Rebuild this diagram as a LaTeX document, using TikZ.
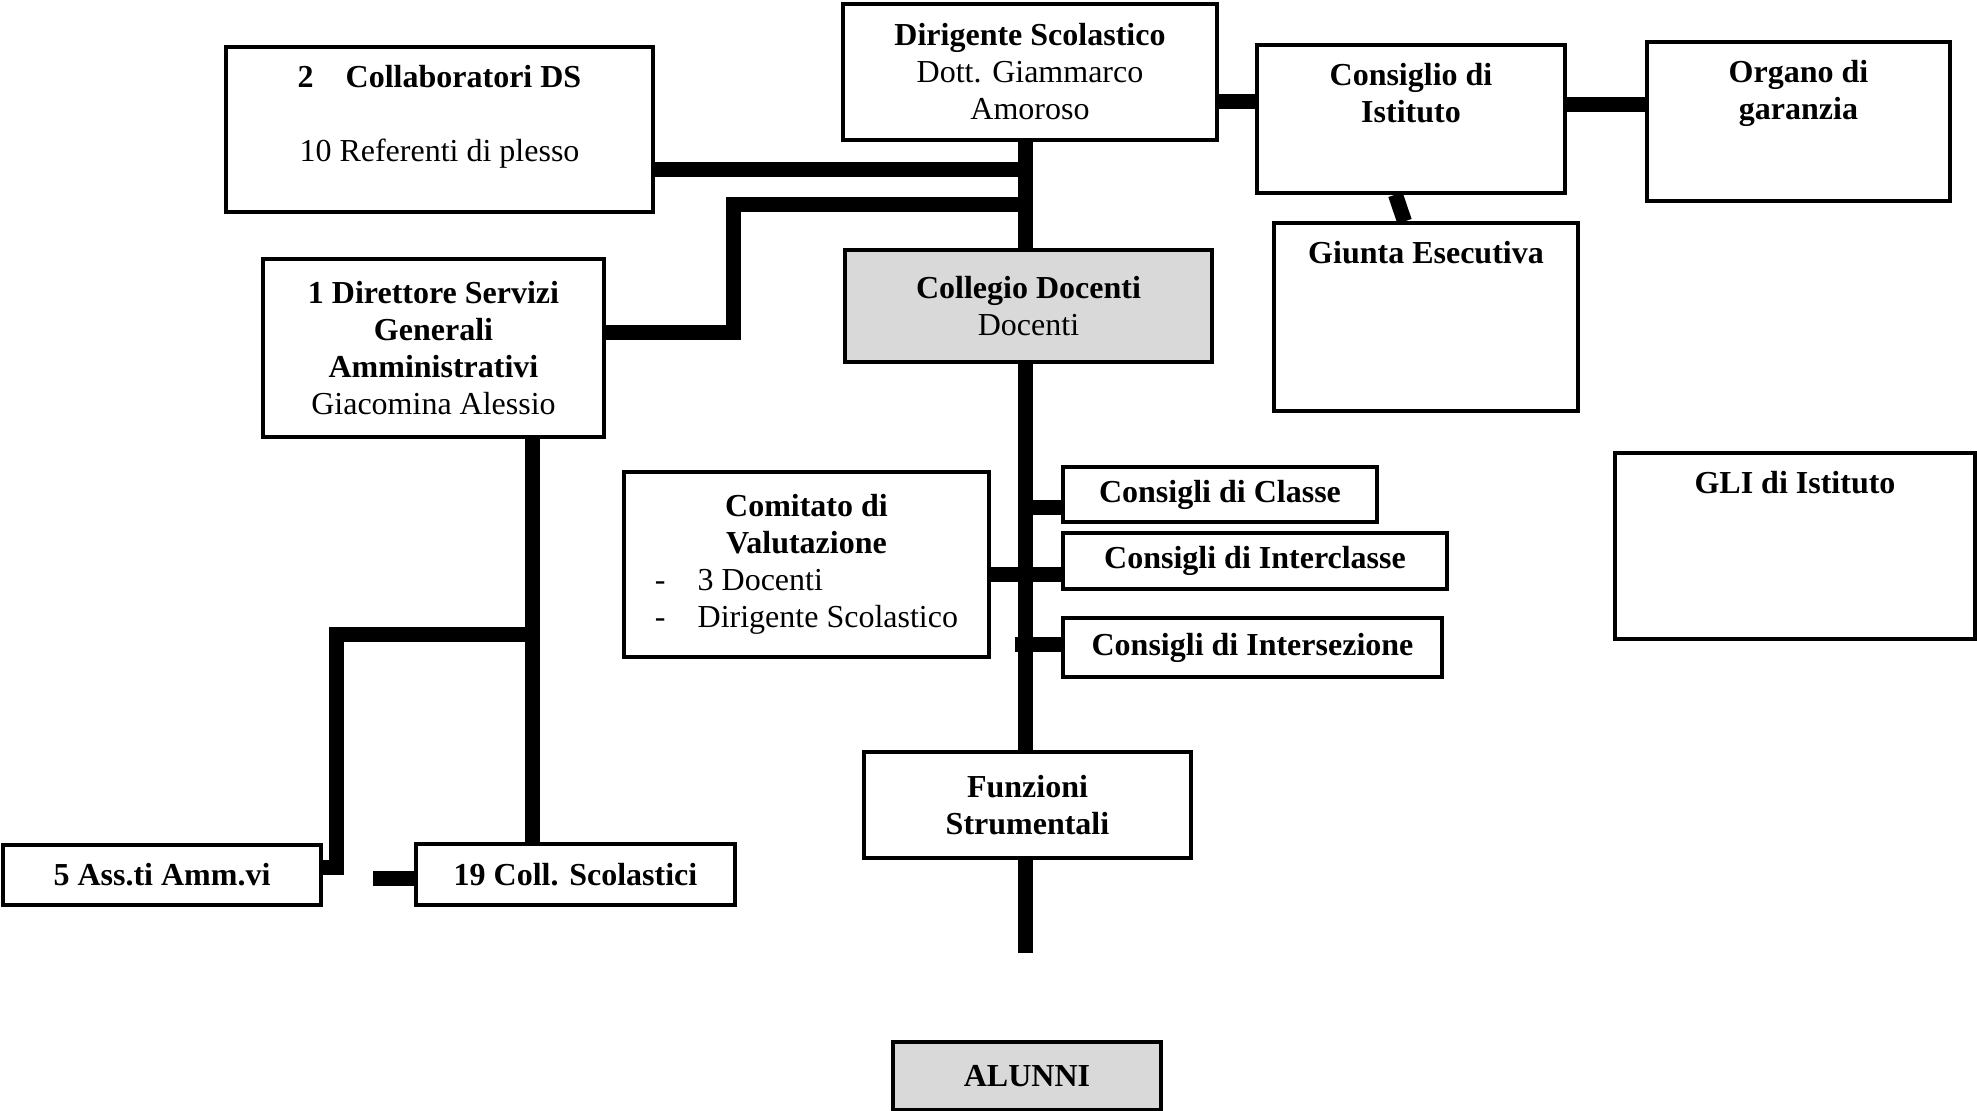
\documentclass[tikz,border=0pt]{standalone}
\usepackage{fontspec}
\setmainfont{Liberation Serif}
\usepackage{tikz}
\usetikzlibrary{calc}
\definecolor{boxgray}{HTML}{D9D9D9}
\newcommand{\boxfont}{\fontsize{16}{18.5}\selectfont}
\tikzstyle{block} = [rectangle, draw, fill=white, line width=1.6pt,
                 inner sep=0pt, align=center, font=\boxfont\bfseries]
\tikzstyle{graybox} = [block, fill=boxgray]
\tikzstyle{toptext} = [anchor=north, align=center, inner sep=0pt,
                 yshift=-10pt, font=\boxfont\bfseries]
\tikzstyle{branch} = [line width=7.5pt, draw]

\begin{document}
\begin{tikzpicture}[x=0.5pt, y=-0.5pt]
\useasboundingbox (0,0) rectangle (1977,1111);

\node [block, minimum width=187pt, minimum height=68pt] at (1030,72) (ds)
	{Dirigente Scolastico\\\mdseries Dott. Giammarco\\\mdseries Amoroso};
\node [block, minimum width=213.5pt, minimum height=82.5pt,
	label={[toptext]north:{2\hspace{1em}Collaboratori DS\\[18.5pt]\mdseries 10 Referenti di plesso}}]
	at (439.5,129.5) (collab) {};
\node [block, minimum width=170.5pt, minimum height=89pt] at (433.5,348) (dsga)
	{1 Direttore Servizi\\Generali\\Amministrativi\\\mdseries Giacomina Alessio};
\node [graybox, minimum width=183.5pt, minimum height=56pt] at (1028.5,306) (collegio)
	{Collegio Docenti\\\mdseries Docenti};

\node [block, minimum width=154pt, minimum height=74pt,
	label={[toptext]north:{Consiglio di\\Istituto}}] at (1411,119) (cdi) {};
\node [block, minimum width=151.5pt, minimum height=79.5pt,
	label={[toptext]north:{Organo di\\garanzia}}] at (1798.5,121.5) (organo) {};
\node [block, minimum width=152pt, minimum height=94pt,
	label={[toptext]north:{Giunta Esecutiva}}] at (1426,317) (giunta) {};
\node [block, minimum width=180pt, minimum height=93pt,
	label={[toptext]north:{GLI di Istituto}}] at (1795,546) (gli) {};

\node [block, minimum width=182.5pt, minimum height=92.5pt] at (806.5,564.5) (comitato)
	{\begin{tabular}{@{}l@{\hspace{16pt}}l@{}}
	\multicolumn{2}{c}{\bfseries Comitato di}\\
	\multicolumn{2}{c}{\bfseries Valutazione}\\
	\mdseries - & \mdseries 3 Docenti\\
	\mdseries - & \mdseries Dirigente Scolastico
	\end{tabular}};

%consigli
\node [block, minimum width=157pt, minimum height=27.5pt] at (1220,494.5) (classe)
	{Consigli di Classe};
\node [block, minimum width=192pt, minimum height=28pt] at (1255,561) (inter)
	{Consigli di Interclasse};
\node [block, minimum width=189.5pt, minimum height=29.5pt] at (1252.5,647.5) (interse)
	{Consigli di Intersezione};

\node [block, minimum width=163.5pt, minimum height=53pt] at (1027.5,805) (funzioni)
	{Funzioni\\Strumentali};
\node [graybox, minimum width=134pt, minimum height=34pt] at (1027,1076) (alunni)
	{ALUNNI};

\node [block, minimum width=159pt, minimum height=30pt] at (162,875) (ass)
	{5 Ass.ti Amm.vi};
\node [block, minimum width=159.5pt, minimum height=30.5pt] at (575.5,874.5) (coll)
	{19 Coll. Scolastici};

\coordinate (jc) at (1025,170);
\coordinate (jd) at (1025,205);
\coordinate (bend) at (733,333);
\coordinate (tend) at (1025,953);
\coordinate (hcdi) at (1230,102);
\coordinate (horg) at (1600,105);
\coordinate (k1) at (1025,508);
\coordinate (k2) at (1025,575);
\coordinate (k3) at (1015,645);
\coordinate (ja) at (532,635);
\coordinate (jb) at (336,635);
\coordinate (jass) at (336,868);
\coordinate (cstub) at (373,879);

%trunk
\path [branch] (ds.south -| tend) -- (collegio.north -| tend);
\path [branch] (collegio.south -| tend) -- (funzioni.north -| tend);
\path [branch] (funzioni.south -| tend) -- (tend);

\path [branch] (collab.east |- jc) -- (jc);
\path [branch] (dsga.east |- bend) -- (bend) -- (bend |- jd) -- (jd);
\path [branch] (ds.east |- hcdi) -- (cdi.west |- hcdi);
\path [branch] (cdi.east |- horg) -- (organo.west |- horg);
\path [branch] ($(cdi.south west)!0.45!(cdi.south east)$)
	-- ($(giunta.north west)!0.43!(giunta.north east)$);

\path [branch] (k1) -- (classe.west |- k1);
\path [branch] (comitato.east |- k2) -- (inter.west |- k2);
\path [branch] (k3) -- (interse.west |- k3);

%segreteria
\path [branch] (dsga.south -| ja) -- (coll.north -| ja);
\path [branch] (ja) -- (jb) -- (jass) -- (jass -| ass.east);
\path [branch] (cstub) -- (cstub -| coll.west);

\end{tikzpicture}
\end{document}
